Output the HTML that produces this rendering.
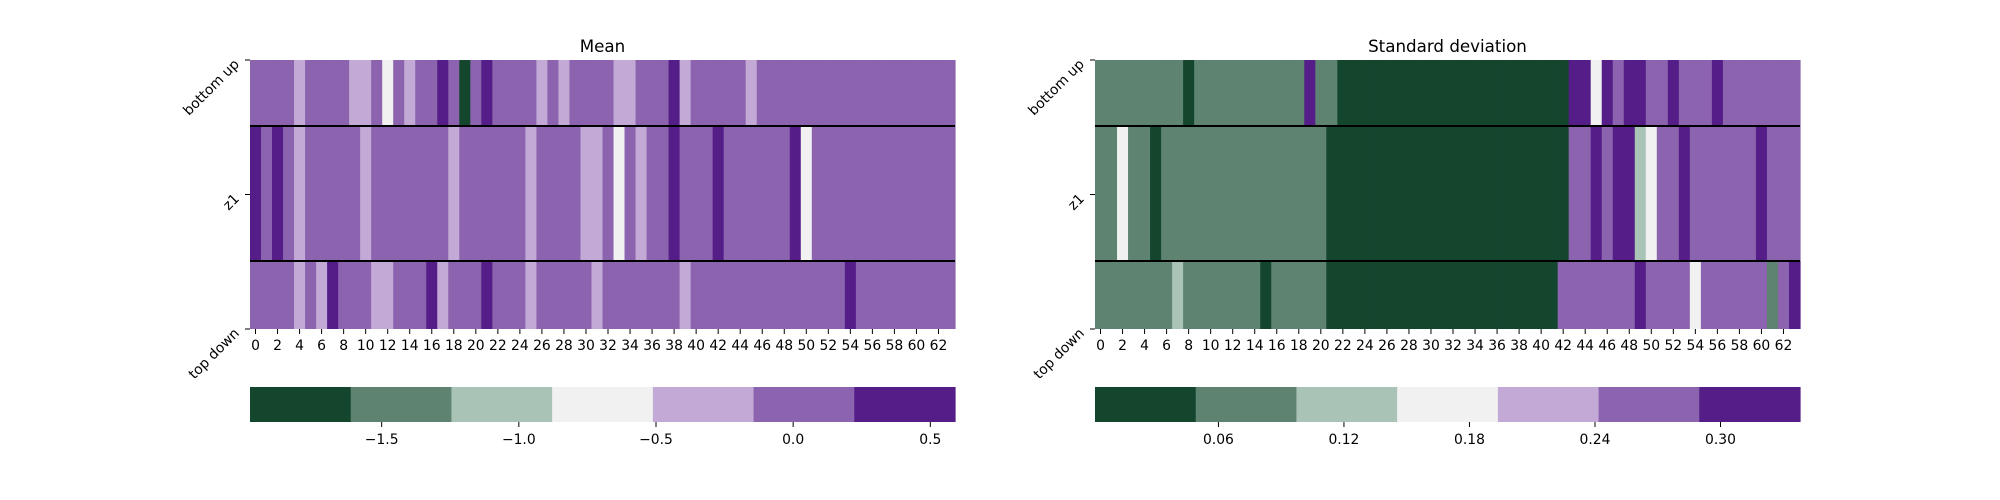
<!DOCTYPE html>
<html><head><meta charset="utf-8"><style>
html,body{margin:0;padding:0;background:#fff;}
svg{display:block;font-family:"DejaVu Sans","Liberation Sans",sans-serif;}
</style></head>
<body>
<svg id="fig" width="2000" height="500" viewBox="0 0 2000 500" xmlns="http://www.w3.org/2000/svg"></svg>
<script>
const rowLabels = ["bottom up","z1","top down"];
const meanTop = [0,0,0,0,-0.3,0,0,0,0,-0.3,-0.3,0,-0.7,0,-0.3,0,0,0.4,0,-1.8,0,0.4,0,0,0,0,-0.3,0,-0.3,0,0,0,0,-0.3,-0.3,0,0,0,0.4,-0.3,0,0,0,0,0,-0.3,0,0,0,0,0,0,0,0,0,0,0,0,0,0,0,0,0,0];
const meanMid = [0.4,0,0.4,0,-0.3,0,0,0,0,0,-0.3,0,0,0,0,0,0,0,-0.3,0,0,0,0,0,0,-0.3,0,0,0,0,-0.3,-0.3,0,-0.7,0,-0.3,0,0,0.4,0,0,0,0.4,0,0,0,0,0,0,0.4,-0.7,0,0,0,0,0,0,0,0,0,0,0,0,0];
const meanBot = [0,0,0,0,-0.3,0,-0.3,0.4,0,0,0,-0.3,-0.3,0,0,0,0.4,-0.3,0,0,0,0.4,0,0,0,-0.3,0,0,0,0,0,-0.3,0,0,0,0,0,0,0,-0.3,0,0,0,0,0,0,0,0,0,0,0,0,0,0,0.4,0,0,0,0,0,0,0,0,0];
const stdTop = [0.07,0.07,0.07,0.07,0.07,0.07,0.07,0.07,0.02,0.07,0.07,0.07,0.07,0.07,0.07,0.07,0.07,0.07,0.07,0.31,0.07,0.07,0.02,0.02,0.02,0.02,0.02,0.02,0.02,0.02,0.02,0.02,0.02,0.02,0.02,0.02,0.02,0.02,0.02,0.02,0.02,0.02,0.02,0.31,0.31,0.17,0.31,0.27,0.31,0.31,0.27,0.27,0.31,0.27,0.27,0.27,0.31,0.27,0.27,0.27,0.27,0.27,0.27,0.27];
const stdMid = [0.07,0.07,0.17,0.07,0.07,0.02,0.07,0.07,0.07,0.07,0.07,0.07,0.07,0.07,0.07,0.07,0.07,0.07,0.07,0.07,0.07,0.02,0.02,0.02,0.02,0.02,0.02,0.02,0.02,0.02,0.02,0.02,0.02,0.02,0.02,0.02,0.02,0.02,0.02,0.02,0.02,0.02,0.02,0.27,0.27,0.31,0.27,0.31,0.31,0.12,0.17,0.27,0.27,0.31,0.27,0.27,0.27,0.27,0.27,0.27,0.31,0.27,0.27,0.27];
const stdBot = [0.07,0.07,0.07,0.07,0.07,0.07,0.07,0.12,0.07,0.07,0.07,0.07,0.07,0.07,0.07,0.02,0.07,0.07,0.07,0.07,0.07,0.02,0.02,0.02,0.02,0.02,0.02,0.02,0.02,0.02,0.02,0.02,0.02,0.02,0.02,0.02,0.02,0.02,0.02,0.02,0.02,0.02,0.27,0.27,0.27,0.27,0.27,0.27,0.27,0.31,0.27,0.27,0.27,0.27,0.17,0.27,0.27,0.27,0.27,0.27,0.27,0.07,0.27,0.31];
const meanTicks = [-1.5,-1.0,-0.5,0.0,0.5];
const meanTickLabels = ["\u22121.5","\u22121.0","\u22120.5","0.0","0.5"];
const stdTicks = [0.06,0.12,0.18,0.24,0.30];
const stdTickLabels = ["0.06","0.12","0.18","0.24","0.30"];
const meanRange = [-1.98,0.59];
const stdRange = [0.001,0.338];
const palette = ["#14452d","#5e8371","#a9c4b7","#f1f1f1","#c3aad6","#8b63ae","#541d87"];

const svg = document.getElementById('fig');
const NS = "http://www.w3.org/2000/svg";
function mk(tag, attrs, parent){
  const e = document.createElementNS(NS, tag);
  for (const k in attrs) e.setAttribute(k, attrs[k]);
  (parent||svg).appendChild(e);
  return e;
}
const rowEdges = [60,126,261,329];

function panel(x0, x1, title, rows, range, ticks, tickLabels, key){
  const g = mk('g', {});
  
  
  const n = rows[0].length;
  const cw = (x1 - x0) / n;
  const colorOf = v => {
    let b = Math.floor((v - range[0]) / (range[1] - range[0]) * 7);
    b = Math.max(0, Math.min(6, b));
    return palette[b];
  };
  const t = mk('text', {x:(x0+x1)/2, y:52, 'text-anchor':'middle', 'font-size':16.7, fill:'#000'}, g);
  t.textContent = title;
  
  
  rows.forEach((row, r) => {
    row.forEach((v, c) => {
      const rc = mk('rect', {x:x0 + c*cw, y:rowEdges[r], width:cw+0.6, height:rowEdges[r+1]-rowEdges[r], fill:colorOf(v)}, g);
      
      
    });
  });
  [1,2].forEach(i => {
    const l = mk('line', {x1:x0, x2:x1, y1:rowEdges[i], y2:rowEdges[i], stroke:'#000', 'stroke-width':2}, g);
    
    
  });
  const yt = [rowEdges[0], (rowEdges[0]+rowEdges[3])/2, rowEdges[3]];
  rowLabels.forEach((lab, i) => {
    mk('line', {x1:x0-5, x2:x0, y1:yt[i], y2:yt[i], stroke:'#000', 'stroke-width':1}, g);
    const ax = x0-10, ay = yt[i]+5;
    const tx = mk('text', {x:ax, y:ay, 'text-anchor':'end', 'font-size':13.9, fill:'#000', transform:`rotate(-45 ${ax} ${ay})`}, g);
    tx.textContent = lab;
    
    
  });
  for (let c = 0; c < n; c += 2){
    const cx = x0 + (c+0.5)*cw;
    mk('line', {x1:cx, x2:cx, y1:329, y2:334, stroke:'#000', 'stroke-width':1}, g);
    const tx = mk('text', {x:cx, y:350, 'text-anchor':'middle', 'font-size':13.9, fill:'#000'}, g);
    tx.textContent = String(c);
    
    
  }
  const cb = mk('g', {}, g);
  
  
  const bw = (x1 - x0) / 7;
  palette.forEach((col, i) => {
    mk('rect', {x:x0 + i*bw, y:387, width:bw+0.6, height:35, fill:col}, cb);
  });
  const sx = v => x0 + (v - range[0]) / (range[1] - range[0]) * (x1 - x0);
  ticks.forEach((tv, i) => {
    const px = sx(tv);
    mk('line', {x1:px, x2:px, y1:422, y2:427, stroke:'#000', 'stroke-width':1}, cb);
    const tx = mk('text', {x:px, y:444, 'text-anchor':'middle', 'font-size':13.9, fill:'#000'}, cb);
    tx.textContent = tickLabels[i];
    
    
  });
}
panel(250, 955, "Mean", [meanTop, meanMid, meanBot], meanRange, meanTicks, meanTickLabels, 'mean');
panel(1095, 1800, "Standard deviation", [stdTop, stdMid, stdBot], stdRange, stdTicks, stdTickLabels, 'std');
</script>
</body></html>
